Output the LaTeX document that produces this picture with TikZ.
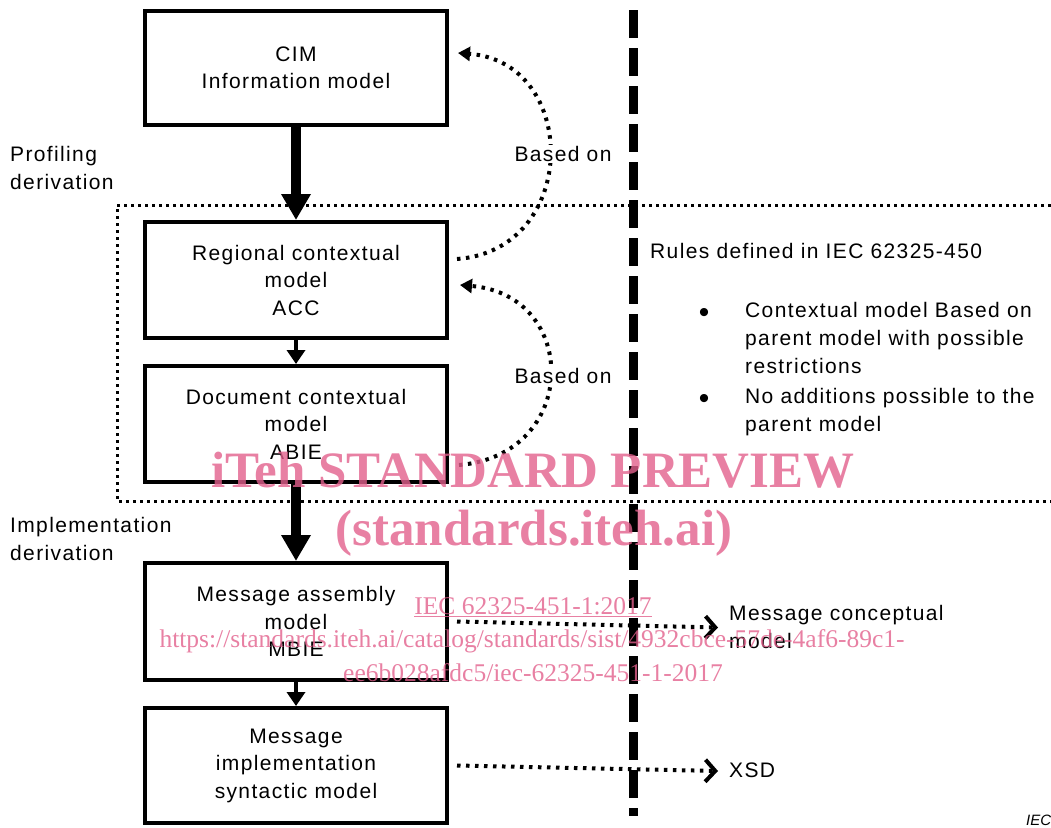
\documentclass[tikz,border=0pt]{standalone}
\usepackage{fontspec}
\setmainfont{Liberation Sans}
\newfontfamily\wmfont{Liberation Serif}
\usetikzlibrary{arrows.meta}
\definecolor{wmpink}{RGB}{226,96,140}
\tikzset{
  box/.style={draw, line width=4pt, minimum width=302pt, inner sep=0pt, align=center,
    font=\fontsize{21}{27.5}\selectfont\addfontfeatures{LetterSpace=6.5}},
  txt/.style={inner sep=0pt, align=left, font=\fontsize{21}{28}\selectfont\addfontfeatures{LetterSpace=6.5}},
  bigarrow/.style={line width=10pt, -{Triangle[width=28pt,length=26pt]}},
  smallarrow/.style={line width=3.5pt, -{Triangle[width=18pt,length=14pt]}},
  dotline/.style={line width=4pt, dash pattern=on 3.5pt off 5.5pt},
  basedarrow/.style={dotline, -{Triangle[width=14pt,length=12pt]}},
  chevarrow/.style={dotline, -{Straight Barb[width=22pt,length=10pt,line width=4pt]}},
  wm/.style={text=wmpink, opacity=0.8, inner sep=0pt}
}
\begin{document}
\begin{tikzpicture}[x=1pt,y=-1pt]
\useasboundingbox (0,0) rectangle (1051,827);
% dotted frame
\draw[line width=3pt, dash pattern=on 3pt off 4pt] (1051,205) -- (117,205) -- (117,501) -- (1051,501);
% vertical dashed line
\draw[line width=9pt, dash pattern=on 28pt off 10pt] (633,10) -- (633,816);
% boxes
\node[box, minimum height=114pt] (cim) at (296,68) {CIM\\Information model};
\node[box, minimum height=116pt] (reg) at (296,280) {Regional contextual\\model\\ACC};
\node[box, minimum height=116pt] (doc) at (296,424) {Document contextual\\model\\ABIE};
\node[box, minimum height=117pt] (msg) at (296,621.5) {Message assembly\\model\\MBIE};
\node[box, minimum height=115pt] (imp) at (296,765.5) {Message\\implementation\\syntactic model};
% vertical arrows
\draw[bigarrow] (cim.south) -- (reg.north);
\draw[smallarrow] (reg.south) -- (doc.north);
\draw[bigarrow] (doc.south) -- (msg.north);
\draw[smallarrow] (msg.south) -- (imp.north);
% based-on curves
\draw[basedarrow] ([xshift=8pt,yshift=21pt]reg.east) .. controls (580,250) and (580,62) .. ([xshift=9pt,yshift=15pt]cim.east);
\draw[basedarrow] ([xshift=10pt,yshift=-41pt]doc.east) .. controls (580,455) and (580,295) .. ([xshift=11pt,yshift=-5pt]reg.east);
\node[txt, fill=white, inner sep=1pt] (b1) at (563,154) {Based on};
\node[txt, fill=white, inner sep=1pt] (b2) at (563,376) {Based on};
% left labels
\node[txt, anchor=north west] (prof) at (10,146) {Profiling\\derivation};
\node[txt, anchor=north west] (impl) at (10,517) {Implementation\\derivation};
% rules
\node[txt, anchor=west] (rules) at (650,251) {Rules defined in IEC 62325-450};
\node[txt, anchor=north west] (r1) at (745,302) {Contextual model Based on\\parent model with possible\\restrictions};
\node[txt, anchor=north west] (r2) at (745,388) {No additions possible to the\\parent model};
\node[inner sep=0pt, font=\fontsize{30}{30}\selectfont] (d1) at (704,315) {\textbullet};
\node[inner sep=0pt, font=\fontsize{30}{30}\selectfont] (d2) at (704,401) {\textbullet};
% outputs
\node[txt, anchor=west] (mc) at (729,626.5) {Message conceptual\\model};
\node[txt, anchor=west] (xsd) at (729,770) {XSD};
\draw[chevarrow] ([xshift=8pt]msg.east) -- ([xshift=-11pt,yshift=-1pt]mc.west);
\draw[chevarrow] ([xshift=8pt]imp.east) -- ([xshift=-11pt,yshift=-1pt]xsd.west);
\node[inner sep=0pt, anchor=west, font=\fontsize{15}{15}\selectfont\itshape] (iec) at (1026,820) {IEC};
% watermark
\node[wm, font=\wmfont\bfseries\fontsize{51}{51}\selectfont] (w1) at (533,470) {iTeh STANDARD PREVIEW};
\node[wm, font=\wmfont\bfseries\fontsize{51}{51}\selectfont] (w2) at (534,533) {(standards.iteh.ai)};
\node[wm, font=\wmfont\fontsize{25.5}{25.5}\selectfont] (w3) at (533,607) {\underline{IEC 62325-451-1:2017}};
\node[wm, font=\wmfont\fontsize{25.5}{25.5}\selectfont] (w4) at (532,641) {https://standards.iteh.ai/catalog/standards/sist/4932cbce-57de-4af6-89c1-};
\node[wm, font=\wmfont\fontsize{25.5}{25.5}\selectfont] (w5) at (533,673) {ee6b028afdc5/iec-62325-451-1-2017};
\end{tikzpicture}
\end{document}
